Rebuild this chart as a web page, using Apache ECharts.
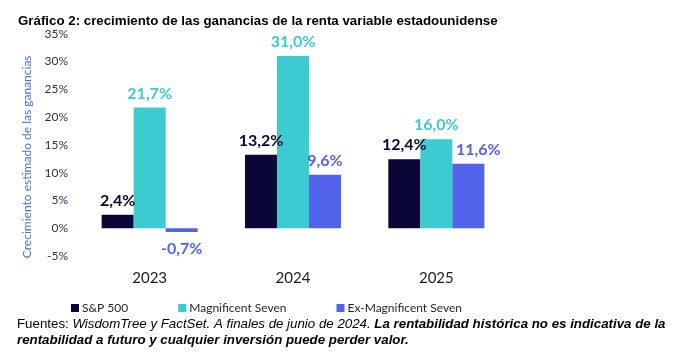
<!DOCTYPE html>
<html>
<head>
<meta charset="utf-8">
<script src="https://cdn.jsdelivr.net/npm/echarts@6/dist/echarts.min.js"></script>
<style>
html,body{margin:0;padding:0;background:#fff;}
#chart{width:673px;height:356px;}
</style>
</head>
<body>
<div id="chart"></div>
<script>
const categories = ['2023', '2024', '2025'];
const seriesNames = ['S&P 500', 'Magnificent Seven', 'Ex-Magnificent Seven'];
const sp500 = [2.4, 13.2, 12.4];
const mag7 = [21.7, 31.0, 16.0];
const exMag7 = [-0.7, 9.6, 11.6];
const yTicks = [-5, 0, 5, 10, 15, 20, 25, 30, 35];

const colors = ['#0b0638', '#3bcbd1', '#5264ec'];
const chartFont = 'Lato';

function fmt(v) { return v.toFixed(1).replace('.', ',') + '%'; }

function makeSeries(name, data, color) {
  return {
    name: name,
    type: 'bar',
    data: data.map(function (v) {
      const item = { value: v };
      if (v < 0) {
        item.label = { position: 'bottom', distance: 9 };
      }
      if (name === 'Ex-Magnificent Seven' && v === 11.6) {
        item.label = { offset: [10, 0] };
      }
      return item;
    }),
    itemStyle: { color: color },
    barGap: '0%',
    barCategoryGap: '33%',
    label: {
      show: true,
      position: 'top',
      distance: 6,
      color: color,
      fontFamily: chartFont,
      fontWeight: 'bold',
      fontSize: 16,
      formatter: function (p) { return fmt(p.value); }
    }
  };
}

const chart = echarts.init(document.getElementById('chart'), null, { renderer: 'canvas' });
chart.setOption({
  animation: false,
  backgroundColor: '#ffffff',
  title: [{
    text: 'Gráfico 2: crecimiento de las ganancias de la renta variable estadounidense',
    left: 13,
    top: 10,
    textStyle: { fontFamily: 'Liberation Sans', fontWeight: 'bold', fontSize: 13.3, color: '#000' }
  }, {
    text: '{n|Fuentes: }{i|WisdomTree y FactSet. A finales de junio de 2024. }{b|La rentabilidad histórica no es indicativa de la}\n{b|rentabilidad a futuro y cualquier inversión puede perder valor.}',
    left: 12,
    top: 311,
    textStyle: {
      fontFamily: 'Liberation Sans',
      fontSize: 13.3,
      fontWeight: 'normal',
      color: '#000',
      lineHeight: 16,
      rich: {
        n: { fontFamily: 'Liberation Sans', fontSize: 13.3, fontWeight: 'normal', fontStyle: 'normal', color: '#000', lineHeight: 16 },
        i: { fontFamily: 'Liberation Sans', fontSize: 13.3, fontWeight: 'normal', fontStyle: 'italic', color: '#000', lineHeight: 16 },
        b: { fontFamily: 'Liberation Sans', fontSize: 13.3, fontStyle: 'italic', fontWeight: 'bold', color: '#000', lineHeight: 16 }
      }
    }
  }],
  legend: {
    data: seriesNames,
    left: 66,
    top: 297,
    icon: 'rect',
    itemWidth: 8,
    itemHeight: 8,
    itemGap: 50,
    textStyle: { fontFamily: chartFont, fontSize: 12, color: '#1e1e3c', padding: [0, 0, 0, -2] }
  },
  grid: { left: 78, right: 165, top: 33.7, bottom: 100, containLabel: false },
  xAxis: {
    type: 'category',
    data: categories,
    position: 'bottom',
    axisLine: { show: false },
    axisTick: { show: false },
    axisLabel: { margin: 15, fontFamily: chartFont, fontSize: 15, color: '#1a1a2e' }
  },
  yAxis: {
    type: 'value',
    min: yTicks[0],
    max: yTicks[yTicks.length - 1],
    interval: 5,
    splitLine: { show: false },
    axisLine: { show: false },
    axisTick: { show: false },
    axisLabel: { margin: 10, fontFamily: chartFont, fontSize: 12, color: '#2e2e50', formatter: '{value}%' },
    name: 'Crecimiento estimado de las ganancias',
    nameLocation: 'middle',
    nameGap: 44,
    nameTextStyle: { fontFamily: chartFont, fontSize: 12, color: '#4a6fd6', padding: [0, 24, 0, 0] }
  },
  series: [
    makeSeries(seriesNames[0], sp500, colors[0]),
    makeSeries(seriesNames[1], mag7, colors[1]),
    makeSeries(seriesNames[2], exMag7, colors[2])
  ]
});
</script>
</body>
</html>
